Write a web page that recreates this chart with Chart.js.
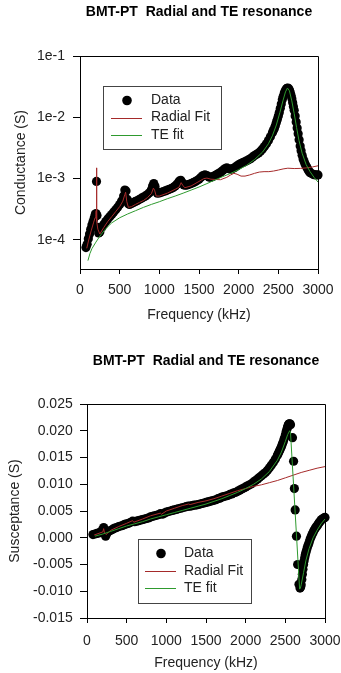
<!DOCTYPE html>
<html><head><meta charset="utf-8">
<script src="https://cdn.jsdelivr.net/npm/chart.js@4"></script>
<style>
html,body{margin:0;padding:0;background:#fff;}
canvas{position:absolute;left:0;}
#c1{top:0;}
#c2{top:330px;}
</style></head><body>
<canvas id="c1" width="341" height="330" style="width:341px;height:330px"></canvas>
<canvas id="c2" width="341" height="343" style="width:341px;height:343px"></canvas>
<script>
// ---------- shared axis ticks ----------
const xTicks = [0, 500, 1000, 1500, 2000, 2500, 3000];
const xTickLabels = ['0', '500', '1000', '1500', '2000', '2500', '3000'];
const gTicks = [1e-4, 1e-3, 1e-2, 1e-1];
const gTickLabels = ['1e-4', '1e-3', '1e-2', '1e-1'];
const bTicks = [-0.015, -0.010, -0.005, 0, 0.005, 0.010, 0.015, 0.020, 0.025];
const bTickLabels = ['-0.015', '-0.010', '-0.005', '0.000', '0.005', '0.010', '0.015', '0.020', '0.025'];
const seriesLabels = ['Data', 'Radial Fit', 'TE fit'];
const chartTitle = 'BMT-PT  Radial and TE resonance';

// ---------- conductance (top) ----------
const gDataFreq = [75,90,105,120,135,150,165,180,192,202,208,214,222,235,250,275,300,325,350,375,
  400,425,450,475,500,525,550,565,580,595,610,625,650,675,700,725,750,775,800,825,
  850,875,900,915,930,945,960,975,1000,1025,1050,1075,1100,1125,1150,1175,1200,1225,1250,1270,
  1290,1310,1330,1350,1375,1400,1425,1450,1475,1500,1525,1550,1575,1600,1625,1650,1675,1700,1725,1750,
  1775,1800,1825,1850,1875,1900,1925,1950,1975,2000,2025,2050,2075,2100,2125,2150,2175,2200,2225,2250,
  2275,2300,2325,2350,2375,2400,2425,2437,2450,2462,2475,2487,2500,2512,2525,2537,2550,2562,2575,2587,
  2600,2610,2620,2630,2640,2650,2660,2670,2680,2690,2700,2712,2725,2737,2750,2762,2775,2787,2800,2812,
  2825,2837,2850,2862,2875,2887,2900,2925,2950,2975,3000];
const gDataVal = [7.5e-5,8.5e-5,1.05e-4,1.25e-4,1.5e-4,1.75e-4,2.0e-4,2.3e-4,2.6e-4,2.7e-4,9.0e-4,2.5e-4,1.6e-4,1.3e-4,1.35e-4,1.6e-4,1.8e-4,2.0e-4,2.2e-4,2.4e-4,
  2.6e-4,2.85e-4,3.1e-4,3.4e-4,3.8e-4,4.3e-4,5.2e-4,6.5e-4,6.3e-4,4.6e-4,3.9e-4,3.8e-4,3.95e-4,4.1e-4,4.25e-4,4.4e-4,4.6e-4,4.8e-4,5.0e-4,5.2e-4,
  5.5e-4,5.9e-4,6.6e-4,7.6e-4,8.3e-4,7.5e-4,6.3e-4,5.8e-4,5.85e-4,6.0e-4,6.15e-4,6.3e-4,6.5e-4,6.7e-4,6.9e-4,7.2e-4,7.6e-4,8.2e-4,9.1e-4,9.4e-4,
  8.6e-4,7.9e-4,7.8e-4,7.9e-4,8.1e-4,8.3e-4,8.6e-4,8.9e-4,9.3e-4,9.8e-4,1.05e-3,1.12e-3,1.15e-3,1.12e-3,1.06e-3,1.05e-3,1.08e-3,1.12e-3,1.17e-3,1.22e-3,
  1.28e-3,1.36e-3,1.45e-3,1.5e-3,1.45e-3,1.42e-3,1.46e-3,1.52e-3,1.6e-3,1.68e-3,1.76e-3,1.82e-3,1.88e-3,1.95e-3,2.03e-3,2.12e-3,2.25e-3,2.38e-3,2.5e-3,2.62e-3,
  2.8e-3,3.05e-3,3.35e-3,3.7e-3,4.2e-3,4.8e-3,5.6e-3,6.1e-3,6.6e-3,7.3e-3,8.2e-3,9.2e-3,1.05e-2,1.2e-2,1.4e-2,1.65e-2,1.95e-2,2.2e-2,2.5e-2,2.72e-2,
  2.9e-2,2.97e-2,3.0e-2,2.93e-2,2.8e-2,2.57e-2,2.3e-2,2.02e-2,1.75e-2,1.5e-2,1.3e-2,1.05e-2,8.4e-3,6.7e-3,5.4e-3,4.3e-3,3.4e-3,2.85e-3,2.4e-3,2.1e-3,
  1.9e-3,1.73e-3,1.6e-3,1.5e-3,1.4e-3,1.32e-3,1.25e-3,1.2e-3,1.16e-3,1.15e-3,1.15e-3];
const gRadialFreq = [85,110,140,170,190,200,204,208,212,225,250,300,350,400,450,500,540,565,575,590,
  610,650,700,750,800,850,900,925,940,960,1000,1100,1200,1250,1275,1295,1320,1400,1500,1560,
  1600,1650,1700,1770,1850,1900,1940,1980,2030,2080,2140,2200,2260,2320,2380,2440,2500,2560,2620,2700,
  2780,2860,2930,3000];
const gRadialVal = [7.3e-5,1.0e-4,1.4e-4,1.9e-4,2.3e-4,2.6e-4,3.0e-4,1.5e-3,2.0e-4,1.5e-4,1.25e-4,1.6e-4,2.0e-4,2.4e-4,2.9e-4,3.5e-4,4.3e-4,5.5e-4,6.0e-4,4.2e-4,
  3.4e-4,3.5e-4,3.8e-4,4.1e-4,4.4e-4,4.9e-4,5.7e-4,7.0e-4,6.5e-4,5.2e-4,5.2e-4,5.8e-4,6.7e-4,7.3e-4,8.6e-4,7.8e-4,7.1e-4,7.6e-4,9.0e-4,1.0e-3,
  1.02e-3,9.8e-4,9.7e-4,9.6e-4,1.05e-3,1.15e-3,1.22e-3,1.18e-3,1.1e-3,1.1e-3,1.15e-3,1.22e-3,1.28e-3,1.3e-3,1.3e-3,1.33e-3,1.38e-3,1.44e-3,1.48e-3,1.46e-3,
  1.47e-3,1.5e-3,1.55e-3,1.62e-3];
const gTeFreq = [100,125,150,200,250,300,350,400,500,600,700,800,900,1000,1100,1200,1300,1400,1500,1600,
  1700,1800,1900,2000,2100,2200,2300,2375,2425,2475,2520,2560,2590,2615,2640,2670,2700,2730,2760,2800,
  2850,2900,2950,3000];
const gTeVal = [4.6e-5,6.0e-5,7.2e-5,9.2e-5,1.15e-4,1.4e-4,1.65e-4,1.9e-4,2.3e-4,2.65e-4,3.0e-4,3.4e-4,3.8e-4,4.2e-4,4.7e-4,5.2e-4,5.8e-4,6.5e-4,7.3e-4,8.3e-4,
  9.5e-4,1.08e-3,1.22e-3,1.4e-3,1.65e-3,2.05e-3,2.7e-3,3.7e-3,5.0e-3,7.5e-3,1.2e-2,1.9e-2,2.6e-2,3.0e-2,2.7e-2,1.85e-2,1.15e-2,6.8e-3,4.2e-3,2.6e-3,
  1.7e-3,1.3e-3,1.05e-3,8.8e-4];

// ---------- susceptance (bottom) ----------
const bDataFreq = [75,100,125,150,175,195,210,220,235,250,275,300,325,350,375,400,425,450,475,500,
  525,550,575,600,625,650,675,700,725,750,775,800,825,850,875,900,925,950,975,1000,
  1025,1050,1075,1100,1125,1150,1175,1200,1225,1250,1275,1300,1325,1350,1375,1400,1425,1450,1475,1500,
  1525,1550,1575,1600,1625,1650,1675,1700,1725,1750,1775,1800,1825,1850,1875,1900,1925,1950,1975,2000,
  2025,2050,2075,2100,2125,2150,2175,2200,2225,2250,2275,2300,2325,2350,2375,2400,2412,2425,2437,2450,
  2462,2475,2487,2500,2510,2520,2528,2535,2542,2550,2557,2565,2590,2604,2614,2624,2640,2655,2672,2685,
  2693,2700,2708,2715,2722,2730,2737,2745,2752,2760,2770,2780,2790,2800,2812,2825,2837,2850,2862,2875,
  2887,2900,2912,2925,2937,2950,2962,2975,2987,3000];
const bDataVal = [0.0006,0.0007,0.0008,0.0009,0.0011,0.0015,0.0019,0.0012,0.0003,0.0008,0.0012,0.0014,0.0016,0.0018,0.0019,0.0021,0.0022,0.0023,0.0025,0.0026,
  0.0027,0.0029,0.0031,0.0030,0.0031,0.0032,0.0033,0.0034,0.0035,0.0036,0.0037,0.0039,0.0040,0.0041,0.0042,0.0043,0.0045,0.0044,0.0046,0.0048,
  0.0049,0.0050,0.0051,0.0052,0.0053,0.0054,0.0055,0.0056,0.0057,0.0058,0.0059,0.0059,0.0060,0.0061,0.0061,0.0062,0.0063,0.0064,0.0065,0.0066,
  0.0067,0.0068,0.0069,0.0070,0.0071,0.0073,0.0074,0.0076,0.0077,0.0078,0.0079,0.0081,0.0082,0.0084,0.0085,0.0087,0.0089,0.0091,0.0093,0.0095,
  0.0097,0.0099,0.0101,0.0104,0.0107,0.0110,0.0113,0.0116,0.0119,0.0122,0.0126,0.0131,0.0136,0.0141,0.0147,0.0154,0.0158,0.0162,0.0166,0.0170,
  0.0175,0.0180,0.0186,0.0192,0.0198,0.0203,0.0207,0.0210,0.0212,0.0213,0.0213,0.0211,0.0187,0.0143,0.0092,0.0052,0.0003,-0.0050,-0.0087,-0.0094,
  -0.0092,-0.0088,-0.0078,-0.0068,-0.0059,-0.0050,-0.0043,-0.0037,-0.0032,-0.0027,-0.0022,-0.0017,-0.0013,-0.0009,-0.0003,0.0002,0.0006,0.0010,0.0014,0.0017,
  0.0020,0.0022,0.0025,0.0028,0.0030,0.0033,0.0034,0.0036,0.0037,0.0038];
const bRadialFreq = [90,200,210,220,240,300,400,500,575,590,700,800,925,940,1000,1100,1200,1280,1300,1400,
  1500,1600,1700,1800,1900,2000,2100,2200,2300,2400,2500,2600,2700,2800,2900,3000];
const bRadialVal = [0.0005,0.0011,0.0017,0.0009,0.0006,0.0014,0.0021,0.0027,0.0032,0.0029,0.0035,0.0041,0.0046,0.0044,0.0050,0.0055,0.0060,0.0063,0.0062,0.0066,
  0.0069,0.0073,0.0078,0.0083,0.0088,0.0092,0.0096,0.0099,0.0103,0.0107,0.0112,0.0117,0.0122,0.0126,0.0130,0.0133];
const bTeFreq = [100,200,300,400,500,600,700,800,900,1000,1100,1200,1300,1400,1500,1600,1700,1800,1900,2000,
  2100,2200,2300,2400,2450,2500,2530,2555,2565,2680,2690,2700,2730,2760,2800,2850,2900,2950,3000];
const bTeVal = [0.0003,0.0007,0.0012,0.0017,0.0022,0.0026,0.0030,0.0035,0.0039,0.0043,0.0047,0.0051,0.0055,0.0059,0.0063,0.0068,0.0073,0.0079,0.0085,0.0092,
  0.0100,0.0110,0.0124,0.0145,0.0160,0.0180,0.0193,0.0200,0.0197,-0.0096,-0.0094,-0.0088,-0.0065,-0.0042,-0.0020,0.0000,0.0014,0.0026,0.0035];

// ---------- helpers ----------
const FONT = '"Liberation Sans", Arial, Helvetica, sans-serif';
Chart.defaults.font.family = FONT;
Chart.defaults.font.size = 14;
const DATA_COLOR = '#000000';
const RADIAL_COLOR = '#a52a2a';
const TE_COLOR = '#2e9a2e';
const TEXT_COLOR = '#222222';

const pts = (xs, ys) => xs.map((x, i) => ({x: x, y: ys[i]}));

const framePlugin = {
  id: 'frame',
  beforeDatasetsDraw(chart) {
    const {ctx, chartArea: a} = chart;
    ctx.save();
    ctx.strokeStyle = '#000';
    ctx.lineWidth = 1;
    ctx.beginPath();
    ctx.moveTo(Math.round(a.left) + 0.5, Math.round(a.top) + 0.5);
    ctx.lineTo(Math.round(a.right) + 0.5, Math.round(a.top) + 0.5);
    ctx.lineTo(Math.round(a.right) + 0.5, Math.round(a.bottom) + 0.5);
    ctx.stroke();
    ctx.restore();
  }
};

const boxLegendPlugin = {
  id: 'boxLegend',
  afterDraw(chart, args, o) {
    const {ctx, chartArea: a} = chart;
    const x0 = Math.round(a.left + o.dx), y0 = Math.round(a.top + o.dy);
    ctx.save();
    ctx.fillStyle = '#fff';
    ctx.fillRect(x0, y0, o.w, o.h);
    ctx.strokeStyle = '#444';
    ctx.lineWidth = 1;
    ctx.strokeRect(x0 + 0.5, y0 + 0.5, o.w, o.h);
    chart.data.datasets.forEach((ds, i) => {
      const y = y0 + o.rows[i];
      if (ds.showLine) {
        ctx.strokeStyle = ds.borderColor;
        ctx.lineWidth = 1;
        ctx.beginPath();
        ctx.moveTo(x0 + o.lineX0, Math.round(y) + 0.5);
        ctx.lineTo(x0 + o.lineX1, Math.round(y) + 0.5);
        ctx.stroke();
      } else {
        ctx.fillStyle = ds.pointBackgroundColor;
        ctx.beginPath();
        ctx.arc(x0 + o.markerX, y, 4.8, 0, Math.PI * 2);
        ctx.fill();
      }
      ctx.fillStyle = TEXT_COLOR;
      ctx.font = '14px ' + FONT;
      ctx.textBaseline = 'middle';
      ctx.textAlign = 'left';
      ctx.fillText(ds.label, x0 + o.textX, y);
    });
    ctx.restore();
  }
};

function makeDatasets(d, r, t) {
  return [
    {label: seriesLabels[0], data: d, showLine: false, pointRadius: 4.6, pointBorderWidth: 0,
     pointBackgroundColor: DATA_COLOR, pointBorderColor: DATA_COLOR, backgroundColor: DATA_COLOR, order: 3, clip: false},
    {label: seriesLabels[1], data: r, showLine: true, borderColor: RADIAL_COLOR, borderWidth: 1,
     pointRadius: 0, tension: 0, order: 2, fill: false},
    {label: seriesLabels[2], data: t, showLine: true, borderColor: TE_COLOR, borderWidth: 1,
     pointRadius: 0, tension: 0, order: 1, fill: false}
  ];
}

function makeChart(id, cfg) {
  return new Chart(document.getElementById(id), {
    type: 'scatter',
    data: {datasets: makeDatasets(cfg.d, cfg.r, cfg.t)},
    plugins: [framePlugin, boxLegendPlugin],
    options: {
      responsive: false,
      animation: false,
      events: [],
      layout: {padding: {left: 0, right: cfg.padRight, top: 0, bottom: 0}},
      plugins: {
        legend: {display: false},
        tooltip: {enabled: false},
        title: {display: true, text: chartTitle, fullSize: false, color: '#000',
                font: {size: 14, weight: 'bold'}, padding: cfg.titlePad},
        boxLegend: cfg.legend
      },
      scales: {
        x: {
          type: 'linear', position: 'bottom', min: 0, max: 3000,
          afterBuildTicks: s => { s.ticks = xTicks.map(v => ({value: v})); },
          ticks: {callback: (v, i) => xTickLabels[i], color: TEXT_COLOR, padding: cfg.xTickPad,
                  maxRotation: 0, autoSkip: false, font: {size: 14}},
          grid: {drawOnChartArea: false, drawTicks: true, tickLength: 5, color: '#000', tickColor: '#000'},
          border: {display: true, color: '#000', width: 1},
          title: {display: true, text: 'Frequency (kHz)', color: TEXT_COLOR, font: {size: 14},
                  padding: {top: 0, bottom: cfg.xTitlePad}},
          afterFit: s => { s.height = cfg.xHeight; s.paddingLeft = 0; s.paddingRight = 0; }
        },
        y: cfg.y
      }
    }
  });
}

// top chart: conductance, log axis
makeChart('c1', {
  d: pts(gDataFreq, gDataVal), r: pts(gRadialFreq, gRadialVal), t: pts(gTeFreq, gTeVal),
  padRight: 23,
  titlePad: {top: 3.6, bottom: 35.6},
  xTickPad: 7.6, xTitlePad: 6.6, xHeight: 61,
  legend: {dx: 23, dy: 30, w: 118, h: 63, lineX0: 8, lineX1: 39, markerX: 24, textX: 48, rows: [14.5, 31.5, 49]},
  y: {
    type: 'logarithmic', position: 'left', min: 3.36e-5, max: 0.1,
    afterBuildTicks: s => { s.ticks = gTicks.map(v => ({value: v, major: true})); },
    ticks: {callback: (v, i) => gTickLabels[i], color: TEXT_COLOR, padding: 8, autoSkip: false, font: {size: 14}},
    grid: {drawOnChartArea: false, drawTicks: true, tickLength: 7, color: '#000', tickColor: '#000'},
    border: {display: true, color: '#000', width: 1},
    title: {display: true, text: 'Conductance (S)', color: TEXT_COLOR, font: {size: 14}, padding: {top: 12.6, bottom: 0}},
    afterFit: s => { s.width = 80; s.paddingTop = 0; s.paddingBottom = 0; }
  }
});

// bottom chart: susceptance, linear axis
makeChart('c2', {
  d: pts(bDataFreq, bDataVal), r: pts(bRadialFreq, bRadialVal), t: pts(bTeFreq, bTeVal),
  padRight: 16,
  titlePad: {top: 22.6, bottom: 34.6},
  xTickPad: 9.6, xTitlePad: 1.6, xHeight: 55,
  legend: {dx: 51, dy: 135, w: 113, h: 64, lineX0: 7, lineX1: 38, markerX: 23, textX: 46, rows: [14.5, 32, 49]},
  y: {
    type: 'linear', position: 'left', min: -0.015, max: 0.025,
    afterBuildTicks: s => { s.ticks = bTicks.map(v => ({value: v})); },
    ticks: {callback: (v, i) => bTickLabels[i], color: TEXT_COLOR, padding: 7.3, autoSkip: false, font: {size: 14}},
    grid: {drawOnChartArea: false, drawTicks: true, tickLength: 7, color: '#000', tickColor: '#000'},
    border: {display: true, color: '#000', width: 1},
    title: {display: true, text: 'Susceptance (S)', color: TEXT_COLOR, font: {size: 14}, padding: {top: 6.6, bottom: 0}},
    afterFit: s => { s.width = 87; s.paddingTop = 0; s.paddingBottom = 0; }
  }
});
</script>
</body></html>
